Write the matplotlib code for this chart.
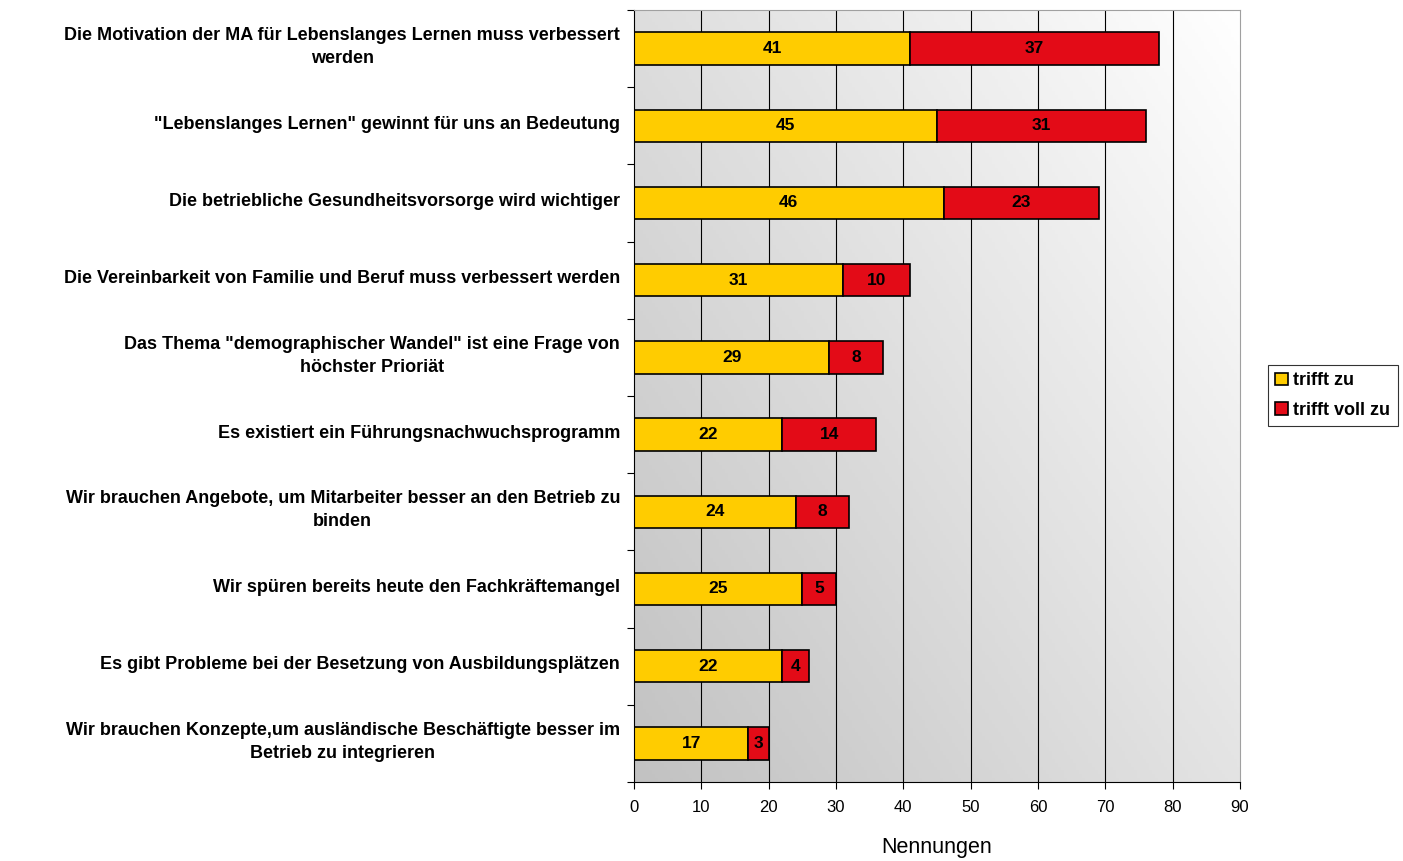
import matplotlib.pyplot as plt
import matplotlib.transforms as mtransforms
from matplotlib.colors import LinearSegmentedColormap
import numpy as np

categories = [
    "Die Motivation der MA für Lebenslanges Lernen muss verbessert\nwerden",
    "\"Lebenslanges Lernen\" gewinnt für uns an Bedeutung",
    "Die betriebliche Gesundheitsvorsorge wird wichtiger",
    "Die Vereinbarkeit von Familie und Beruf muss verbessert werden",
    "Das Thema \"demographischer Wandel\" ist eine Frage von\nhöchster Prioriät",
    "Es existiert ein Führungsnachwuchsprogramm",
    "Wir brauchen Angebote, um Mitarbeiter besser an den Betrieb zu\nbinden",
    "Wir spüren bereits heute den Fachkräftemangel",
    "Es gibt Probleme bei der Besetzung von Ausbildungsplätzen",
    "Wir brauchen Konzepte,um ausländische Beschäftigte besser im\nBetrieb zu integrieren",
]
trifft_zu = [41, 45, 46, 31, 29, 22, 24, 25, 22, 17]
trifft_voll_zu = [37, 31, 23, 10, 8, 14, 8, 5, 4, 3]

yellow = "#FFCC00"
red = "#E30B17"

plt.rcParams["font.family"] = ["Liberation Sans", "DejaVu Sans"]

fig = plt.figure(figsize=(14.03, 8.61), dpi=100)
ax = fig.add_axes([0.4519, 0.0918, 0.8838 - 0.4519, 0.9884 - 0.0918])

n = len(categories)
ypos = np.arange(n)

# gradient background: dark bottom-left, light top-right
gx, gy = np.meshgrid(np.linspace(0, 1, 200), np.linspace(0, 1, 200))
grad = 0.55 * gx + 0.45 * (1 - gy)
bg_cmap = LinearSegmentedColormap.from_list("bg", ["#c2c2c2", "#ffffff"])
ax.imshow(grad, extent=[0, 90, n - 0.5, -0.5], aspect="auto",
          cmap=bg_cmap, vmin=0, vmax=1, zorder=0)

for v in range(10, 90, 10):
    ax.axvline(v, color="black", linewidth=0.8, zorder=1)

h = 0.42
ax.barh(ypos, trifft_zu, height=h, color=yellow, edgecolor="black",
        linewidth=1.2, label="trifft zu", zorder=2)
ax.barh(ypos, trifft_voll_zu, left=trifft_zu, height=h, color=red,
        edgecolor="black", linewidth=1.2, label="trifft voll zu", zorder=2)

for i in range(n):
    ax.text(trifft_zu[i] / 2, i, str(trifft_zu[i]), ha="center", va="center",
            fontsize=12.5, fontweight="bold", zorder=3)
    ax.text(trifft_zu[i] + trifft_voll_zu[i] / 2, i, str(trifft_voll_zu[i]),
            ha="center", va="center", fontsize=12.5, fontweight="bold", zorder=3)

ax.set_xlim(0, 90)
ax.set_ylim(n - 0.5, -0.5)
ax.set_xticks(range(0, 91, 10))
ax.tick_params(axis="x", labelsize=12, length=5, direction="out", pad=8)

# category boundaries get the tick marks, labels are drawn separately
ax.set_yticks(np.arange(-0.5, n, 1.0))
ax.set_yticklabels([])
ax.tick_params(axis="y", length=5, direction="out")

label_tr = mtransforms.blended_transform_factory(fig.transFigure, ax.transData)
for i, cat in enumerate(categories):
    ax.text(620 / 1403, i - 0.02, cat, transform=label_tr, ha="right",
            va="center", multialignment="center", fontsize=13,
            fontweight="bold", linespacing=1.5)

ax.set_xlabel("Nennungen", fontsize=15.5, labelpad=16)

for side in ["top", "right"]:
    ax.spines[side].set_color("#a0a0a0")
for side in ["left", "bottom"]:
    ax.spines[side].set_color("black")

leg = fig.legend(loc="upper left", bbox_to_anchor=(1268 / 1403, 1 - 365 / 861),
                 frameon=True, fancybox=False, edgecolor="black",
                 prop={"weight": "bold", "size": 13},
                 handlelength=0.7, handleheight=0.7, handletextpad=0.3,
                 borderpad=0.4, labelspacing=0.7, borderaxespad=0)
leg.get_frame().set_linewidth(0.8)

fig.savefig("out.png", dpi=100)
